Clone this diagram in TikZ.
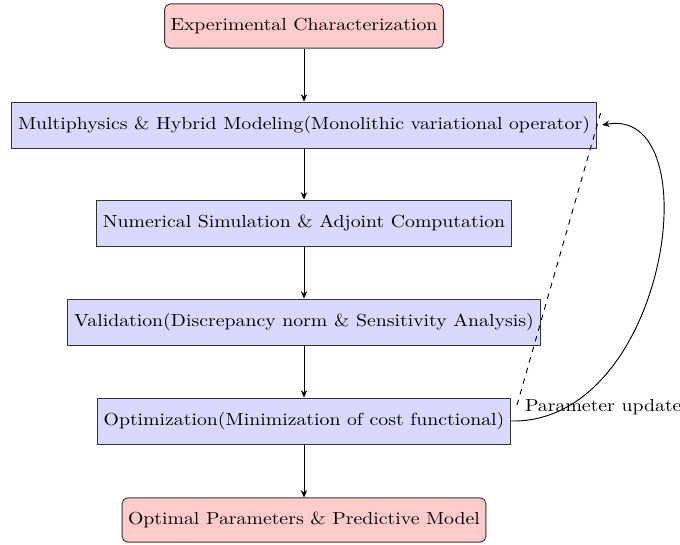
\documentclass[tikz,border=0pt]{standalone}
\usetikzlibrary{arrows.meta}
\newcommand\wtxt[1]{\scalebox{1.075}[0.95]{#1}}
\begin{document}
\begin{tikzpicture}[x=0.5435pt,y=-0.5435pt,
  blk/.style={draw=black!80, fill=blue!15, minimum height=25pt, inner xsep=3.4pt, line width=0.5pt},
  term/.style={draw=black!80, fill=red!20, rounded corners=3pt, minimum height=24pt, inner xsep=3.2pt, line width=0.5pt},
  flow/.style={-{Stealth[length=4pt,width=3.5pt]}, black, line width=0.5pt}]
\useasboundingbox (0,0) rectangle (680,545);
\node[term] (exp) at (304,26) {\wtxt{Experimental Characterization}};
\node[blk] (multi) at (304,125) {\wtxt{Multiphysics \& Hybrid Modeling(Monolithic variational operator)}};
\node[blk] (num) at (304,223) {\wtxt{Numerical Simulation \& Adjoint Computation}};
\node[blk] (val) at (304,322) {\wtxt{Validation(Discrepancy norm \& Sensitivity Analysis)}};
\node[blk] (opt) at (304,421) {\wtxt{Optimization(Minimization of cost functional)}};
\node[term] (res) at (304,520) {\wtxt{Optimal Parameters \& Predictive Model}};
\draw[flow] (exp) -- (multi);
\draw[flow] (multi) -- (num);
\draw[flow] (num) -- (val);
\draw[flow] (val) -- (opt);
\draw[flow] (opt) -- (res);
\coordinate (dtop) at (602,108);
\coordinate (dbot) at (517,405);
\draw[dashed, line width=0.5pt] (dbot) -- (dtop);
\draw[flow] (opt.east) .. controls (668,424) and (712,105) .. ([xshift=3pt]multi.east);
\node[anchor=west, inner sep=2pt] (lbl) at (521,407) {\wtxt{Parameter update}};
\end{tikzpicture}
\end{document}
